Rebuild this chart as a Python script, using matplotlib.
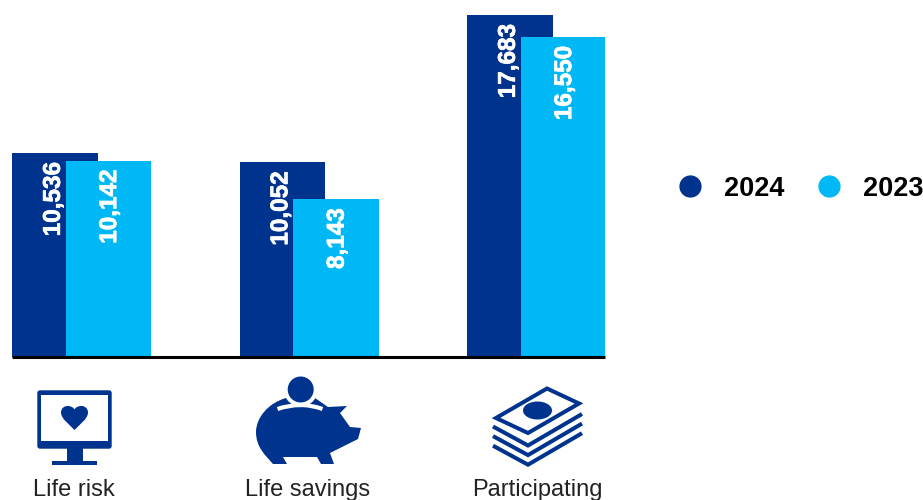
import matplotlib
matplotlib.use("Agg")
import matplotlib.pyplot as plt
import matplotlib.patheffects as pe
from matplotlib.lines import Line2D
from matplotlib.patches import Circle, Ellipse, PathPatch, Polygon, Rectangle, FancyBboxPatch
from matplotlib.path import Path

# Data
categories = ["Life risk", "Life savings", "Participating"]
values_2024 = [10536, 10052, 17683]
values_2023 = [10142, 8143, 16550]
series_names = ["2024", "2023"]

DARK = "#00338D"
LIGHT = "#00B8F5"
W, H = 923, 500

plt.rcParams["font.family"] = ["Liberation Sans", "DejaVu Sans"]
fig = plt.figure(figsize=(W / 100, H / 100), dpi=100, facecolor="white")


def to_fig(x0, y0, x1, y1):
    """Pixel box (y measured from the top) to figure fractions."""
    return [x0 / W, 1 - y1 / H, (x1 - x0) / W, (y1 - y0) / H]


# Bars
ax = fig.add_axes(to_fig(12, 0, 605, 356.5))
group_px = 227.5
bar_w = 85.5 / group_px
offset = 53.5 / group_px
dark_x = [i for i in range(len(categories))]
light_x = [i + offset for i in dark_x]
px_per_value = 341.5 / 17683

dark_bars = ax.bar(dark_x, values_2024, width=bar_w, align="edge", color=DARK, zorder=2)
light_bars = ax.bar(light_x, values_2023, width=bar_w, align="edge", color=LIGHT, zorder=3)
ax.set_xlim(0, 593 / group_px)
ax.set_ylim(0, 356.5 / px_per_value)

# Value labels sit rotated just inside the top of each bar
heavier = [pe.withStroke(linewidth=0.5, foreground="white")]
for bars, vals, dx in ((dark_bars, values_2024, -1), (light_bars, values_2023, 1)):
    for rect, v in zip(bars, vals):
        ax.annotate(f"{v:,}", (rect.get_x() + rect.get_width() / 2, v),
                    xytext=(dx, -6.5), textcoords="offset points",
                    rotation=90, ha="center", va="top", color="white",
                    fontsize=17.5, fontweight="bold", zorder=4,
                    path_effects=heavier)

for side in ("top", "left", "right"):
    ax.spines[side].set_visible(False)
ax.spines["bottom"].set_linewidth(2.2)
ax.spines["bottom"].set_color("black")
ax.spines["bottom"].set_capstyle("butt")
ax.spines["bottom"].set_zorder(6)
ax.set_yticks([])
ax.set_xticks([61.5 / group_px, 295.5 / group_px, 525.5 / group_px])
ax.set_xticklabels(categories, fontsize=17, color="#222222")
ax.tick_params(axis="x", length=0, pad=88)
ax.patch.set_alpha(0)

# Legend
handles = [Line2D([], [], linestyle="none", marker="o", markersize=15,
                  markerfacecolor=c, markeredgecolor=c)
           for c in (DARK, LIGHT)]
fig.legend(handles, series_names, ncol=2, frameon=False, loc="center left",
           bbox_to_anchor=(680 / W, 1 - 188.5 / H), borderpad=0, borderaxespad=0,
           handlelength=0.76, handletextpad=0.85, columnspacing=1.3,
           prop={"size": 19.5, "weight": "bold"}, labelcolor="black")

# Pictograms, drawn on a pixel-based overlay
ov = fig.add_axes([0, 0, 1, 1], zorder=5)
ov.set_xlim(0, W)
ov.set_ylim(H, 0)
ov.axis("off")

# Monitor with a heart on the screen
ov.add_patch(FancyBboxPatch((38, 391), 73, 57, boxstyle="round,pad=0,rounding_size=2",
                            fc=DARK, ec=DARK, lw=1))
ov.add_patch(Rectangle((41, 394.5), 67, 46.5, fc="white", ec="none"))
ov.add_patch(Rectangle((66.5, 448), 16, 14, fc=DARK, ec="none"))
ov.add_patch(Rectangle((52, 461), 45, 4, fc=DARK, ec="none"))
C4 = Path.CURVE4
heart = Path([(74.5, 430),
              (70, 425), (61, 419), (61, 412.5),
              (61, 408.5), (64, 406), (67.5, 406),
              (71, 406), (73.5, 407.5), (74.5, 409.5),
              (75.5, 407.5), (78, 406), (81.5, 406),
              (85, 406), (88, 408.5), (88, 412.5),
              (88, 419), (79, 425), (74.5, 430)],
             [Path.MOVETO] + [C4] * 18)
ov.add_patch(PathPatch(heart, fc=DARK, ec="none"))

# Piggy bank
L = Path.LINETO
pig = Path([(273, 464), (287, 464), (283, 457), (317, 457), (321, 464), (334, 464),
            (330, 453), (358, 439), (361, 428), (350, 427), (340, 413), (347, 406),
            (328, 407), (315, 398), (286, 398),
            (268, 403), (256, 418), (256, 432),
            (256, 447), (265, 455), (273, 464)],
           [Path.MOVETO, L, L, L, L, L, L, L, L, L, L, L, L, L, L,
            C4, C4, C4, C4, C4, C4])
ov.add_patch(PathPatch(pig, fc=DARK, ec="none"))
ov.add_patch(Circle((300.7, 389.5), 17, fc="white", ec="none"))
slot = Path([(277.5, 409), (300.7, 401), (322.5, 409)], [Path.MOVETO, Path.CURVE3, Path.CURVE3])
ov.add_patch(PathPatch(slot, fc="none", ec="white", lw=3, capstyle="butt"))
ov.add_patch(Circle((300.7, 389.5), 13, fc=DARK, ec="none"))

# Stack of banknotes
ov.add_patch(Polygon([(547, 388.5), (579, 403.5), (528, 433), (496, 418)], closed=True,
                     fc="white", ec=DARK, lw=2.9, joinstyle="miter"))
ov.add_patch(Ellipse((537.5, 410.5), 29, 18, fc=DARK, ec="none"))
for dy in (0, 9.6, 19.2):
    ov.plot([493, 528, 582], [426.5 + dy, 445.5 + dy, 414 + dy],
            color=DARK, lw=2.9, solid_joinstyle="miter", solid_capstyle="butt")

fig.savefig("out.png", dpi=100, facecolor="white")
